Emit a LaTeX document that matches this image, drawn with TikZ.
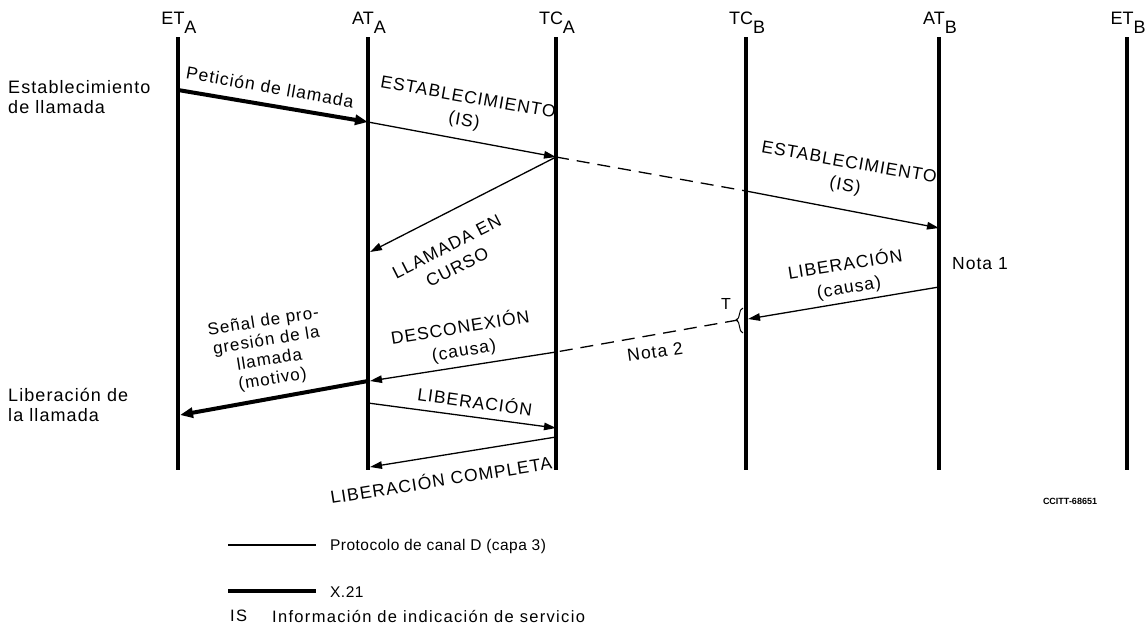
\documentclass[tikz,border=0pt]{standalone}
\usepackage{fontspec}
\setmainfont{Liberation Sans}
\newfontfamily\lblfont{Liberation Sans}[LetterSpace=6]
\newfontfamily\legfont{Liberation Sans}[LetterSpace=3]
\newfontfamily\widefont{Liberation Sans}[LetterSpace=8]
\usetikzlibrary{arrows.meta}
\begin{document}
\begin{tikzpicture}[x=1pt,y=-1pt,
  lifeline/.style={line width=3.2pt},
  msg/.style={line width=1.3pt,-{Triangle[length=12pt,width=7.5pt]}},
  xmsg/.style={line width=4pt,-{Triangle[length=13pt,width=10pt]}},
  relay/.style={line width=1.3pt,dash pattern=on 13pt off 8pt},
  head/.style={font=\fontsize{18}{20}\selectfont,inner sep=0pt},
  lbl/.style={font=\lblfont\fontsize{17.5}{23}\selectfont,inner sep=0pt,align=center},
  side/.style={font=\lblfont\fontsize{18}{20}\selectfont,inner sep=0pt,align=left,anchor=north west},
  leg/.style={font=\legfont\fontsize{15.5}{17}\selectfont,inner sep=0pt,anchor=west}
]
\useasboundingbox (0,0) rectangle (1146,630);

% lifelines
\foreach \n/\x in {ETA/178,ATA/368,TCA/556,TCB/746,ATB/939,ETB/1127}{
  \coordinate (\n-t) at (\x,37);
  \coordinate (\n-b) at (\x,470);
  \draw[lifeline] (\n-t) -- (\n-b);
}
\node[head,anchor=base] (hETA) at (179,24) {ET\raisebox{-9pt}{A}};
\node[head,anchor=base] (hATA) at (369,24) {AT\raisebox{-9pt}{A}};
\node[head,anchor=base] (hTCA) at (557,24) {TC\raisebox{-9pt}{A}};
\node[head,anchor=base] (hTCB) at (747,24) {TC\raisebox{-9pt}{B}};
\node[head,anchor=base] (hATB) at (940,24) {AT\raisebox{-9pt}{B}};
\node[head,anchor=base] (hETB) at (1128,24) {ET\raisebox{-9pt}{B}};

% message end points on the lifelines
\coordinate (p1) at (178,90);
\coordinate (p2) at (368,122);
\coordinate (p3) at (556,157);
\coordinate (p4) at (746,191);
\coordinate (p5) at (939,228);
\coordinate (q1) at (370,252);
\coordinate (r1) at (939,287);
\coordinate (r2) at (748,319);
\coordinate (r2d) at (738,320);
\coordinate (r3) at (556,352);
\coordinate (r4) at (370,381);
\coordinate (r4s) at (368,381);
\coordinate (r5) at (180,415);
\coordinate (s1) at (368,403);
\coordinate (s2) at (556,428);
\coordinate (s3) at (556,437);
\coordinate (s4) at (370,467);

% call set-up
\draw[xmsg] (p1) -- (p2);
\draw[msg] (p2) -- (p3);
\draw[relay] (p3) -- (p4);
\draw[msg] (p4) -- (p5);
\draw[msg] (p3) -- (q1);

% call clearing
\draw[msg] (r1) -- (r2);
\draw[relay] (r2d) -- (r3);
\draw[msg] (r3) -- (r4);
\draw[xmsg] (r4s) -- (r5);
\draw[msg] (s1) -- (s2);
\draw[msg] (s3) -- (s4);

% timer T at TC_B
\draw[line width=1pt] (743,308) .. controls (738,309) and (741,319) .. (736,320)
                                 .. controls (741,321) and (738,332) .. (743,333);
\node[head,font=\fontsize{16}{18}\selectfont] (tT) at (726,304) {T};

% message labels
\node[lbl,rotate=-10] (l1) at (270,87) {Petición de llamada};
\node[lbl,rotate=-10] (l2) at (466,110) {ESTABLECIMIENTO\\(IS)};
\node[lbl,rotate=-10] (l3) at (847,175) {ESTABLECIMIENTO\\(IS)};
\node[lbl,rotate=27] (l4) at (452,257) {LLAMADA EN\\CURSO};
\node[lbl,rotate=9] (l5) at (847,276) {LIBERACIÓN\\(causa)};
\node[lbl,rotate=9] (l6) at (462,339) {DESCONEXIÓN\\(causa)};
\node[lbl,rotate=9,font=\lblfont\fontsize{17}{19.5}\selectfont] (l7) at (268,351) {Señal de pro-\\gresión de la\\llamada\\(motivo)};
\node[lbl,rotate=-8] (l8) at (475,401) {LIBERACIÓN};
\node[lbl,rotate=9] (l9) at (441,479) {LIBERACIÓN COMPLETA};
\node[lbl,rotate=8] (n2) at (655,352) {Nota 2};
\node[lbl] (n1) at (980,264) {Nota 1};

% phase captions
\node[side] (c1) at (8,80) {Establecimiento\\de llamada};
\node[side] (c2) at (8,388) {Liberación de\\la llamada};

\node[font=\bfseries\fontsize{9}{10}\selectfont,inner sep=0pt] (ref) at (1070,501) {CCITT-68651};

% legend
\coordinate (k1a) at (228,545); \coordinate (k1b) at (316,545);
\coordinate (k2a) at (228,591); \coordinate (k2b) at (316,591);
\draw[line width=1.3pt] (k1a) -- (k1b);
\draw[line width=4pt] (k2a) -- (k2b);
\node[leg] (t1) at (330,546) {Protocolo de canal D (capa 3)};
\node[leg] (t2) at (330,592) {X.21};
\node[leg,font=\widefont\fontsize{16.5}{18}\selectfont] (t3) at (230,616) {IS};
\node[leg,font=\widefont\fontsize{16.5}{18}\selectfont] (t4) at (272,616) {Información de indicación de servicio};
\end{tikzpicture}
\end{document}
